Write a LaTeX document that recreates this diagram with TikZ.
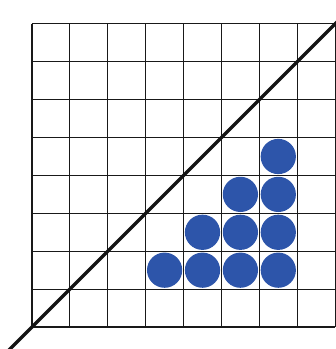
\documentclass[tikz,border=0pt]{standalone}
\definecolor{dotblue}{RGB}{45,85,170}
\begin{document}
\begin{tikzpicture}[x=1cm,y=1cm,
  gridline/.style={line width=0.85pt,black!90},
  diag/.style={line width=2.6pt,black!92},
  dot/.style={circle,fill=dotblue,inner sep=0pt,minimum size=0.93cm}]
\useasboundingbox (-0.844,-0.58) rectangle (8.02,8.63);
\clip (-0.844,-0.58) rectangle (8.02,8.63);
\draw[gridline] (0,0) grid (8,8);
\foreach \c/\r in {3/1,4/1,5/1,6/1,4/2,5/2,6/2,5/3,6/3,6/4}
  \node[dot] (d\c\r) at (\c+0.5,\r+0.5) {};
\draw[diag] (-0.8,-0.8) -- (8.3,8.3);
\end{tikzpicture}
\end{document}
